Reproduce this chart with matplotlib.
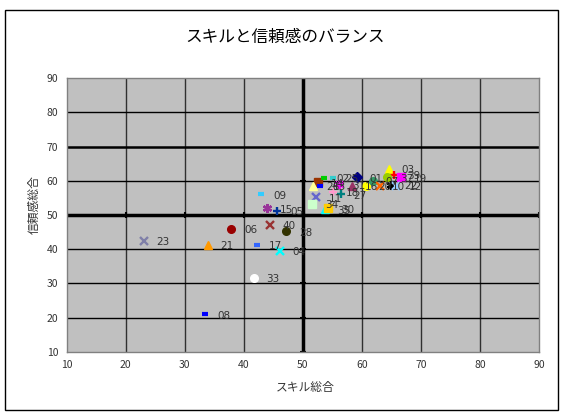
import matplotlib
matplotlib.use("Agg")
import matplotlib.pyplot as plt
from matplotlib.patches import Rectangle

plt.rcParams['font.family'] = ['Noto Sans CJK JP', 'DejaVu Sans']

# member scores: skill total (x) vs trust total (y)
names = ["23", "21", "06", "08", "33", "17", "09", "40", "28", "04", "15", "05",
         "14", "26", "13", "02", "25", "31", "01", "16", "20", "07", "10", "03",
         "39", "37", "19", "22", "12", "11", "18", "27", "34", "35", "30"]
skill = [23.1, 33.9, 37.9, 33.4, 41.7, 42.2, 42.9, 44.4, 47.2, 46.1, 44.0, 45.7,
         52.6, 51.8, 52.9, 53.6, 55.1, 56.2, 59.1, 58.4, 60.7, 61.9, 63.0, 64.6,
         65.5, 64.3, 66.6, 65.0, 65.8, 52.3, 55.1, 56.4, 51.6, 53.7, 54.3]
trust = [42.4, 41.2, 46.0, 20.9, 31.7, 41.2, 56.0, 47.2, 45.2, 39.6, 52.0, 51.3,
         59.6, 58.5, 58.5, 60.9, 60.9, 59.0, 61.0, 58.5, 58.5, 60.0, 58.5, 63.5,
         61.7, 61.0, 61.0, 58.8, 58.5, 55.2, 56.8, 56.0, 53.2, 51.7, 52.0]
colors = ["#7f7fa8", "#ff9900", "#990000", "#0000ff", "#ffffff", "#3366ff", "#33ccff",
          "#993333", "#333300", "#00ffff", "#993399", "#003399",
          "#993300", "#ffff99", "#0000ff", "#00cc00", "#33cccc", "#ff00ff", "#000080",
          "#993366", "#ffff00", "#339966", "#ff6600", "#ffff00", "#ff0000", "#99cc00",
          "#ff00ff", "#000000", "#99ccff", "#6666cc", "#ff99cc", "#008080", "#ccffcc",
          "#00ffff", "#ffcc00"]
markers = ["x", "^", "o", "_", "o", "_", "_", "x", "o", "x", "*", "+",
           "s", "^", "_", "_", "_", "*", "D", "^", "o", "o", "x", "^",
           "+", "o", "s", "*", "x", "x", "+", "+", "s", "^", "s"]

fig = plt.figure(figsize=(5.61, 4.12), dpi=100)
fig.patch.set_facecolor("white")

# chart frame
fig.patches.append(Rectangle((5 / 561, 2 / 412), 553 / 561, 400 / 412,
                             transform=fig.transFigure, fill=False,
                             edgecolor="black", linewidth=1.0))

ax = fig.add_axes([66.7 / 561, 1 - 351.7 / 412, 472.3 / 561, 273.4 / 412])
ax.set_facecolor("#c0c0c0")
ax.set_xlim(10, 90)
ax.set_ylim(10, 90)

for v in range(20, 90, 10):
    ax.axvline(v, color="#303030", lw=1.0, zorder=1)
for v in range(20, 90, 10):
    ax.axhline(v, color="black", lw=1.8 if v == 70 else 1.0, zorder=1)
ax.axvline(50, color="black", lw=2.5, zorder=2)
ax.axhline(50, color="black", lw=2.5, zorder=2)

# tick marks on the crossing axes
ax.plot(list(range(10, 91, 10)), [50] * 9, ls="none", marker="|", color="black",
        ms=5, mew=1.5, zorder=2)
ax.plot([50] * 9, list(range(10, 91, 10)), ls="none", marker="_", color="black",
        ms=5, mew=1.5, zorder=2)

for n, x, y, c, m in zip(names, skill, trust, colors, markers):
    if m in ("x", "+"):
        ax.plot(x, y, ls="none", marker=m, color=c, ms=5.5, mew=1.7, zorder=3)
    elif m == "_":
        ax.plot(x, y, ls="none", marker=m, color=c, ms=5, mew=3, zorder=3)
    elif m == "*":
        ax.plot(x, y, ls="none", marker=(6, 2, 0), color=c, ms=6.5, mew=1.7, zorder=3)
    else:
        ax.plot(x, y, ls="none", marker=m, color=c, mec=c, ms=5.5, zorder=3)
    ax.annotate(n, (x, y), xytext=(9, -1), textcoords="offset points",
                fontsize=7.5, color="#333333", va="center", ha="left",
                family="DejaVu Sans", zorder=4)

ax.set_xticks(range(10, 91, 10))
ax.set_yticks(range(10, 91, 10))
ax.tick_params(length=0, labelsize=7.5, labelcolor="#333333", pad=6)
for s in ax.spines.values():
    s.set_color("#808080")
    s.set_linewidth(1.0)

fig.text(285 / 561, 1 - 37 / 412, "スキルと信頼感のバランス", fontsize=12,
         ha="center", va="center", color="black")
fig.text(305 / 561, 1 - 388 / 412, "スキル総合", fontsize=8.5,
         ha="center", va="center", color="#333333")
fig.text(34 / 561, 1 - 205 / 412, "信頼感総合", fontsize=8.5, rotation=90,
         ha="center", va="center", color="#333333")

fig.savefig("out.png", dpi=100)
